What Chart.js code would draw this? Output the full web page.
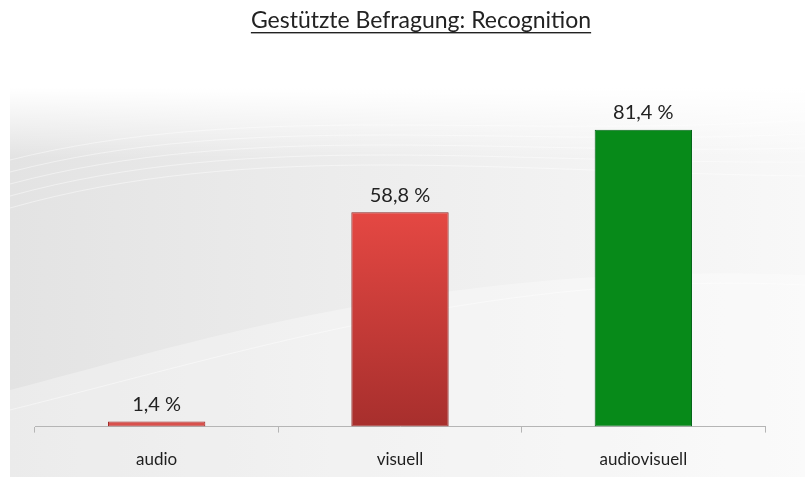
<!DOCTYPE html>
<html>
<head>
<meta charset="utf-8">
<script src="https://cdn.jsdelivr.net/npm/chart.js@4"></script>
<style>
  html, body { margin: 0; padding: 0; background: #fff; }
  #wrap { width: 805px; height: 477px; position: relative; }
</style>
</head>
<body>
<div id="wrap"><canvas id="recognitionChart" width="805" height="477"></canvas></div>
<script>
// Gestützte Befragung: Recognition
const categories = ['audio', 'visuell', 'audiovisuell'];
const values = [1.4, 58.8, 81.4];
const valueLabels = ['1,4 %', '58,8 %', '81,4 %'];
const chartTitle = 'Gestützte Befragung: Recognition';

const FONT = 'Lato, "Open Sans", sans-serif';

// gray swoosh background like the slide template
const backgroundPlugin = {
    id: 'swooshBackground',
    beforeDraw(chart) {
        const ctx = chart.ctx;
        const x0 = 10, y0 = 88, x1 = 805, y1 = 477;
        ctx.save();
        const g = ctx.createLinearGradient(x0, 0, x1, 0);
        g.addColorStop(0, '#e3e3e3');
        g.addColorStop(0.45, '#ededed');
        g.addColorStop(1, '#f8f8f8');
        ctx.fillStyle = g;
        ctx.fillRect(x0, y0, x1 - x0, y1 - y0);
        // fade to white at the top
        const f = ctx.createLinearGradient(0, y0, 0, y0 + 70);
        f.addColorStop(0, 'rgba(255,255,255,1)');
        f.addColorStop(1, 'rgba(255,255,255,0)');
        ctx.fillStyle = f;
        ctx.fillRect(x0, y0, x1 - x0, 70);
        // lighter wave across the lower part
        ctx.beginPath();
        ctx.moveTo(x0, 390);
        ctx.bezierCurveTo(200, 340, 450, 260, 805, 275);
        ctx.lineTo(805, 477);
        ctx.lineTo(x0, 477);
        ctx.closePath();
        ctx.fillStyle = 'rgba(255,255,255,0.3)';
        ctx.fill();
        ctx.strokeStyle = 'rgba(255,255,255,0.45)';
        ctx.lineWidth = 1;
        for (let i = 0; i < 5; i++) {
            ctx.beginPath();
            ctx.moveTo(x0, 160 + i * 12);
            ctx.bezierCurveTo(250, 100 + i * 10, 500, 140 + i * 8, 805, 120 + i * 14);
            ctx.stroke();
        }
        ctx.beginPath();
        ctx.moveTo(x0, 410);
        ctx.bezierCurveTo(250, 350, 500, 270, 805, 285);
        ctx.stroke();
        ctx.restore();
    }
};

// title with underline, value labels above bars
const labelsPlugin = {
    id: 'textLabels',
    afterDraw(chart) {
        const ctx = chart.ctx;
        ctx.save();
        ctx.fillStyle = '#222';
        ctx.font = '23px ' + FONT;
        ctx.textAlign = 'center';
        ctx.textBaseline = 'middle';
        const cx = 421;
        ctx.fillText(chartTitle, cx, 21);
        const w = ctx.measureText(chartTitle).width;
        ctx.fillRect(cx - w / 2, 32, w, 1.4);

        ctx.font = '20px ' + FONT;
        const meta = chart.getDatasetMeta(0);
        meta.data.forEach((bar, i) => {
            ctx.fillText(valueLabels[i], bar.x, bar.y - 17);
        });
        ctx.restore();
    }
};

const ctx = document.getElementById('recognitionChart').getContext('2d');

function barFill(context) {
    const i = context.dataIndex;
    if (i === 2) return '#078a19';
    if (i === 0) return '#d9504c';
    const g = context.chart.ctx.createLinearGradient(0, 211, 0, 424);
    g.addColorStop(0, '#e54843');
    g.addColorStop(1, '#a82f2d');
    return g;
}

new Chart(ctx, {
    type: 'bar',
    data: {
        labels: categories,
        datasets: [{
            data: values,
            backgroundColor: barFill,
            borderColor: ['#a02a28', '#8e2523', '#05661a'],
            borderWidth: 1,
            borderSkipped: false,
            categoryPercentage: 1,
            barPercentage: 0.4
        }]
    },
    options: {
        responsive: false,
        animation: false,
        layout: {
            padding: { top: 62, left: 35, right: 40, bottom: -10 }
        },
        plugins: {
            legend: { display: false },
            tooltip: { enabled: false },
            title: { display: false }
        },
        scales: {
            x: {
                grid: {
                    offset: true,
                    drawOnChartArea: false,
                    drawTicks: true,
                    tickLength: 6,
                    color: '#b5b5b5'
                },
                border: { display: true, color: '#b5b5b5' },
                ticks: {
                    color: '#1e1e1e',
                    font: { family: FONT, size: 17 },
                    padding: 17
                }
            },
            y: {
                display: false,
                min: 0,
                max: 100
            }
        }
    },
    plugins: [backgroundPlugin, labelsPlugin]
});
</script>
</body>
</html>
